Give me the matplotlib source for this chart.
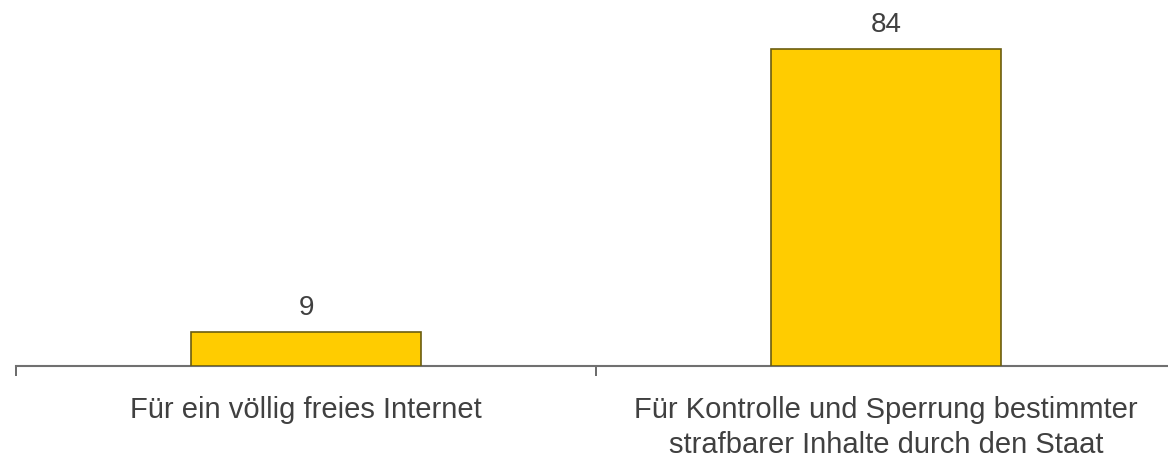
import matplotlib
matplotlib.use("Agg")
import matplotlib.pyplot as plt

categories = ["Für ein völlig freies Internet",
              "Für Kontrolle und Sperrung bestimmter\nstrafbarer Inhalte durch den Staat"]
values = [9, 84]

plt.rcParams["font.family"] = ["Liberation Sans", "DejaVu Sans"]

W, H = 1168, 460
fig = plt.figure(figsize=(W / 100, H / 100), dpi=100)
# axes: left edge at x=16px, baseline at y=93px from bottom
ax = fig.add_axes([16 / W, 93 / H, (W - 16) / W, (H - 93) / H])

px_per_cat = 580.0
px_per_unit = 3.77
pos = list(range(len(categories)))

bars = ax.bar(pos, values, width=0.398, color="#FFCC00",
              edgecolor="#6b5d10", linewidth=1.2, zorder=3)

ax.set_xlim(-0.5, -0.5 + (W - 16) / px_per_cat)
ax.set_ylim(0, (H - 93) / px_per_unit)

for rect, v in zip(bars, values):
    ax.annotate(str(v), (rect.get_x() + rect.get_width() / 2, rect.get_height()),
                xytext=(0, 9), textcoords="offset points", ha="center", va="bottom",
                fontsize=20, color="#404040")

for spine in ["top", "right", "left"]:
    ax.spines[spine].set_visible(False)
ax.spines["bottom"].set_color("#707070")
ax.spines["bottom"].set_linewidth(1.5)
ax.set_yticks([])

# category boundaries get the short tick marks
ax.set_xticks([-0.5, 0.5])
ax.set_xticklabels(["", ""])
ax.tick_params(axis="x", which="major", direction="out", length=7,
               width=1.2, color="#505050")
ax.set_xticks(pos, minor=True)
ax.set_xticklabels(categories, minor=True, fontsize=21, color="#404040",
                   linespacing=1.3)
ax.tick_params(axis="x", which="minor", length=0, pad=21)

fig.savefig("out.png", dpi=100)
